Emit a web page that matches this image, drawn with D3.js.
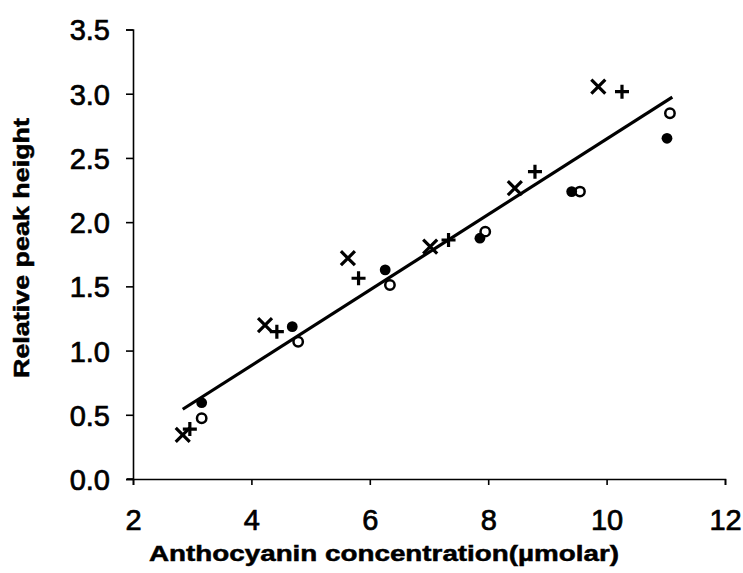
<!DOCTYPE html>
<html><head><meta charset="utf-8">
<script src="https://cdn.jsdelivr.net/npm/d3@7"></script>
<style>
body{margin:0;background:#fff;}
svg{display:block;}
</style></head>
<body><svg id="c" width="743" height="573"></svg>
<script>
// Data
const xTicks = [2, 4, 6, 8, 10, 12];
const yTicks = [0, 0.5, 1, 1.5, 2, 2.5, 3, 3.5];
const crossX = [2.84, 4.23, 5.63, 7.02, 8.45, 9.86];
const crossY = [0.343, 1.199, 1.719, 1.809, 2.264, 3.055];
const plusX = [2.96, 4.43, 5.81, 7.33, 8.79, 10.26];
const plusY = [0.389, 1.147, 1.563, 1.861, 2.393, 3.016];
const dotX = [3.16, 4.69, 6.26, 7.86, 9.41, 11.02];
const dotY = [0.594, 1.186, 1.628, 1.875, 2.238, 2.653];
const ringX = [3.16, 4.79, 6.34, 7.95, 9.55, 11.07];
const ringY = [0.473, 1.069, 1.511, 1.926, 2.238, 2.848];
const fitX = [2.84, 11.11];
const fitY = [0.543, 2.973];

const svg = d3.select("#c");
const x = d3.scaleLinear().domain([2, 12]).range([133, 725]);
const y = d3.scaleLinear().domain([0, 3.5]).range([479, 29.5]);
const font = "'Liberation Sans', Arial, Helvetica, sans-serif";

// axes
const gx = svg.append("g").attr("transform", `translate(0,${y(0)})`)
  .call(d3.axisBottom(x).tickValues(xTicks).tickFormat(d3.format("d")).tickSize(6).tickSizeOuter(6).tickPadding(24));
const gy = svg.append("g").attr("transform", `translate(${x(2)},0)`)
  .call(d3.axisLeft(y).tickValues(yTicks).tickFormat(d3.format(".1f")).tickSize(7).tickSizeOuter(7).tickPadding(16));
[gx, gy].forEach(g => {
  g.selectAll("path,line").attr("stroke", "#000").attr("stroke-width", 1.6);
  g.selectAll("text").attr("fill", "#000").attr("stroke", "#000").attr("stroke-width", 0.7)
    .style("font-family", font).style("font-size", "29px");
});
gy.selectAll("text").attr("dy", "0.36em");
// tiny stub of x-axis left of y axis
svg.append("line").attr("x1", x(2) - 6).attr("x2", x(2)).attr("y1", y(0)).attr("y2", y(0))
  .attr("stroke", "#000").attr("stroke-width", 1.6);

// fit line
svg.append("line")
  .attr("x1", x(fitX[0])).attr("y1", y(fitY[0]))
  .attr("x2", x(fitX[1])).attr("y2", y(fitY[1]))
  .attr("stroke", "#000").attr("stroke-width", 3.2);

// rings
svg.append("g").selectAll("circle").data(ringX).join("circle")
  .attr("cx", d => x(d)).attr("cy", (d, i) => y(ringY[i])).attr("r", 4.7)
  .attr("fill", "none").attr("stroke", "#000").attr("stroke-width", 2.5);
// dots
svg.append("g").selectAll("circle").data(dotX).join("circle")
  .attr("cx", d => x(d)).attr("cy", (d, i) => y(dotY[i])).attr("r", 5.4)
  .attr("fill", "#000");
// crosses
const cs = 7;
svg.append("g").selectAll("path").data(crossX).join("path")
  .attr("d", (d, i) => {
    const cx = x(d), cy = y(crossY[i]);
    return `M${cx - cs},${cy - cs}L${cx + cs},${cy + cs}M${cx - cs},${cy + cs}L${cx + cs},${cy - cs}`;
  })
  .attr("stroke", "#000").attr("stroke-width", 3.2).attr("fill", "none");
// plus
const ps = 7;
svg.append("g").selectAll("path").data(plusX).join("path")
  .attr("d", (d, i) => {
    const cx = x(d), cy = y(plusY[i]);
    return `M${cx - ps},${cy}L${cx + ps},${cy}M${cx},${cy - ps}L${cx},${cy + ps}`;
  })
  .attr("stroke", "#000").attr("stroke-width", 3.2).attr("fill", "none");

// titles
svg.append("text").attr("x", 384).attr("y", 561).attr("text-anchor", "middle")
  .attr("textLength", 470).attr("lengthAdjust", "spacingAndGlyphs")
  .attr("stroke", "#000").attr("stroke-width", 0.5)
  .style("font-family", font).style("font-weight", "bold").style("font-size", "22px")
  .text("Anthocyanin concentration(\u00b5molar)");
svg.append("text").attr("transform", "translate(29,248) rotate(-90)").attr("text-anchor", "middle")
  .attr("textLength", 260).attr("lengthAdjust", "spacingAndGlyphs")
  .attr("stroke", "#000").attr("stroke-width", 0.5)
  .style("font-family", font).style("font-weight", "bold").style("font-size", "22px")
  .text("Relative peak height");
</script></body></html>
